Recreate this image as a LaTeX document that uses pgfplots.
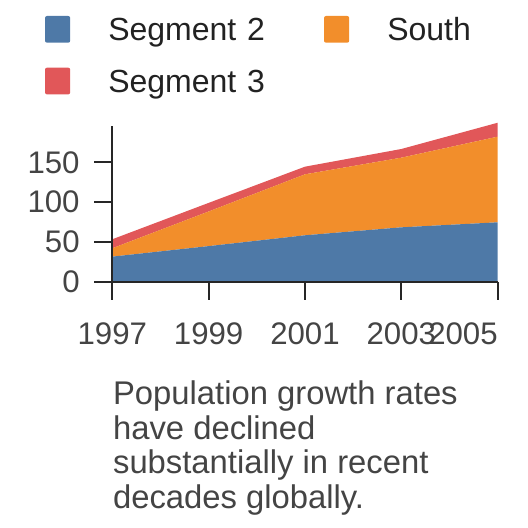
\documentclass[border=0pt]{standalone}
\usepackage{fontspec}
\setmainfont{Liberation Sans}
\usepackage{pgfplots}
\pgfplotsset{compat=1.18}
\definecolor{cBlue}{HTML}{4E79A7}
\definecolor{cOrange}{HTML}{F28E2B}
\definecolor{cRed}{HTML}{E15759}
\definecolor{axcol}{HTML}{262626}
\definecolor{txt}{HTML}{444444}
\definecolor{legtxt}{HTML}{222222}
\begin{document}
\begin{tikzpicture}
\useasboundingbox (0,0) rectangle (264pt,264pt);
\begin{axis}[
  at={(56.15pt,123.15pt)}, anchor=south west,
  scale only axis, width=192.7pt, height=77.85pt,
  xmin=1997, xmax=2005, ymin=0, ymax=195.6,
  clip=false, axis on top,
  axis x line*=bottom, axis y line*=left,
  xtick={1997,1999,2001,2003,2005},
  xticklabels={1997,1999,2001,2003,\llap{2005}},
  ytick={0,50,100,150},
  tick align=outside, major tick length=9pt,
  tick style={axcol, line width=1pt},
  axis line style={axcol, line width=1pt},
  /pgf/number format/assume math mode=true,
  ticklabel style={font=\fontsize{15.6}{18}\selectfont, text=txt, inner sep=0pt},
  x tick label style={anchor=base, yshift=-22.6pt},
  y tick label style={anchor=east, xshift=-7.15pt},
  stack plots=y,
  legend columns=2,
  legend style={
    at={(-0.17463,1.70649)}, anchor=north west,
    draw=none, fill=none, inner sep=0pt, outer sep=0pt,
    column sep=0pt, row sep=9.35pt,
    font=\fontsize{16}{19}\selectfont,
    nodes={inner sep=0pt, text=legtxt, text width=107.85pt, text height=12pt, text depth=4pt, anchor=base west},
  },
  legend image code/.code={
    \fill[#1, rounded corners=1pt] (0pt,-0.85pt) rectangle (12.6pt,12.5pt);
    \path (31.65pt,0pt);
  },
]
\addplot[fill=cBlue, draw=none] coordinates {
  (1997,31.5) (1999,44.7) (2001,58.3) (2003,68.3) (2005,74.6)
} \closedcycle;
\addlegendentry{Segment 2}
\addplot[fill=cOrange, draw=none] coordinates {
  (1997,10.5) (1999,43.5) (2001,76.6) (2003,87.5) (2005,107.6)
} \closedcycle;
\addlegendentry{South}
\addplot[fill=cRed, draw=none] coordinates {
  (1997,11.3) (1999,10.8) (2001,9.6) (2003,10.9) (2005,17.5)
} \closedcycle;
\addlegendentry{Segment 3}
\end{axis}
\begin{scope}[every node/.style={anchor=base west, inner sep=0pt, text=txt, font=\fontsize{16.4}{19}\selectfont}]
\node at (56.35pt,61.5pt) {Population growth rates};
\node at (56.35pt,44pt) {have declined};
\node at (56.35pt,27pt) {substantially in recent};
\node at (56.35pt,9.85pt) {decades globally.};
\end{scope}
\end{tikzpicture}
\end{document}
